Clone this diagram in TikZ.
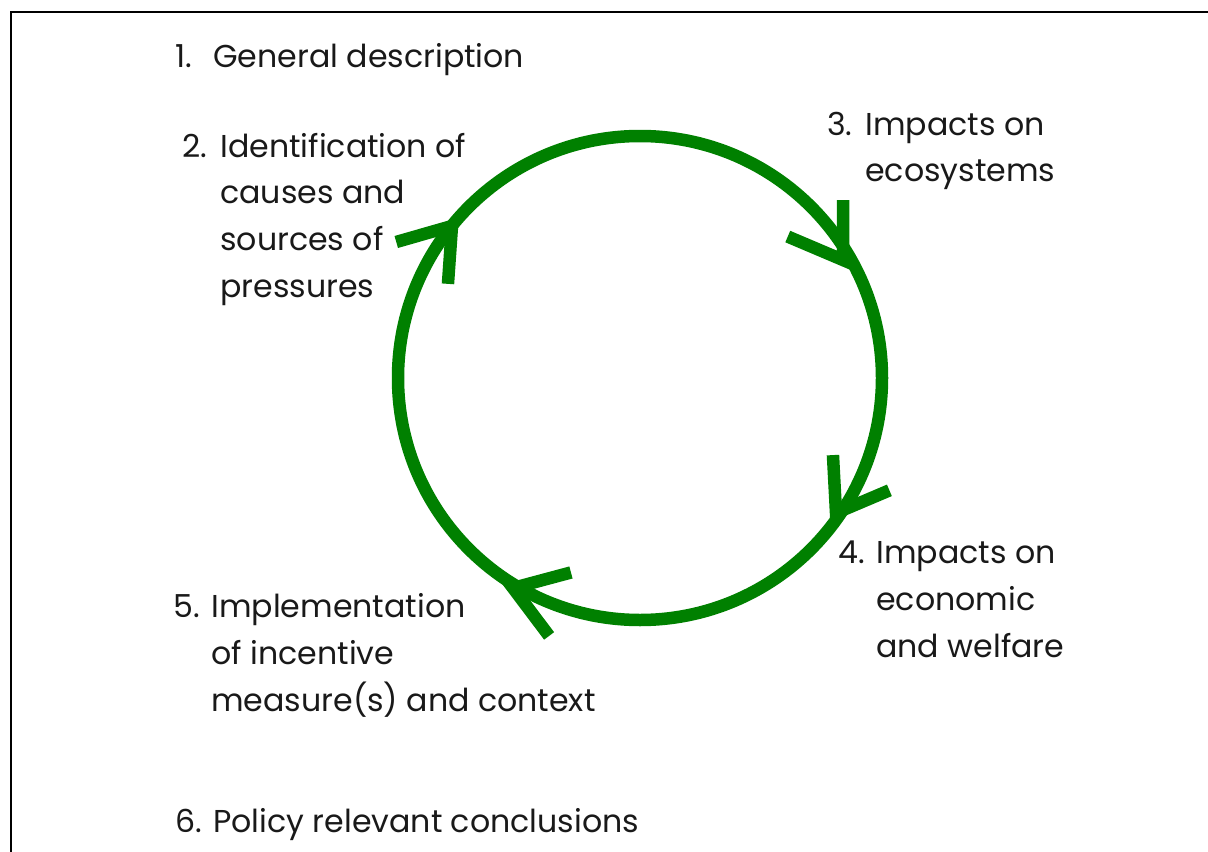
\documentclass[tikz,border=0pt]{standalone}
\usepackage{fontspec}
\setmainfont{Poppins}
\usepackage{tikz}
\usetikzlibrary{calc}
\definecolor{cyclegreen}{RGB}{0,128,0}
\newcommand{\steplist}[1]{\begin{tabular}[t]{@{}p{0.76cm}@{}l@{}}#1\end{tabular}}

\begin{document}
\begin{tikzpicture}[x=0.02cm, y=0.02cm,
  lbl/.style={anchor=base west, inner sep=0pt, text=black!90,
    font=\fontsize{18pt}{26.75pt}\selectfont},
  ring/.style={draw=cyclegreen, line width=0.25cm},
  head/.style={draw=cyclegreen, line width=0.25cm}
]
\useasboundingbox (0,0) rectangle (1208,-852);
\draw[line width=0.9pt] (11,-852) -- (11,-12) -- (1208,-12);

% the cycle
\coordinate (ctr) at (640,-378);
\draw[ring] (ctr) circle[radius=242];

\coordinate (tip2) at (452,-226);
\coordinate (tip3) at (843,-260);
\coordinate (tip4) at (836,-513);
\coordinate (tip5) at (513,-588);
\draw[head] ($(tip2)+(196:58)$) -- (tip2) -- ($(tip2)+(266:58)$);
\draw[head] ($(tip3)+(157:60)$) -- (tip3) -- ($(tip3)+(90:60)$);
\draw[head] ($(tip4)+(93:58)$) -- (tip4) -- ($(tip4)+(23:58)$);
\draw[head] ($(tip5)+(15:60)$) -- (tip5) -- ($(tip5)+(-53:60)$);

% steps
\node[lbl] (step1) at (175,-67) {\steplist{1. & General description}};
\node[lbl] (step2) at (182,-157)
  {\steplist{2. & Identification of\\ & causes and\\ & sources of\\ & pressures}};
\node[lbl] (step3) at (827,-135) {\steplist{3. & Impacts on\\ & ecosystems}};
\node[lbl] (step4) at (838,-563)
  {\steplist{4. & Impacts on\\ & economic\\ & and welfare}};
\node[lbl] (step5) at (173,-617)
  {\steplist{5. & Implementation\\ & of incentive\\ & measure(s) and context}};
\node[lbl] (step6) at (175,-832) {\steplist{6. & Policy relevant conclusions}};
\end{tikzpicture}
\end{document}
